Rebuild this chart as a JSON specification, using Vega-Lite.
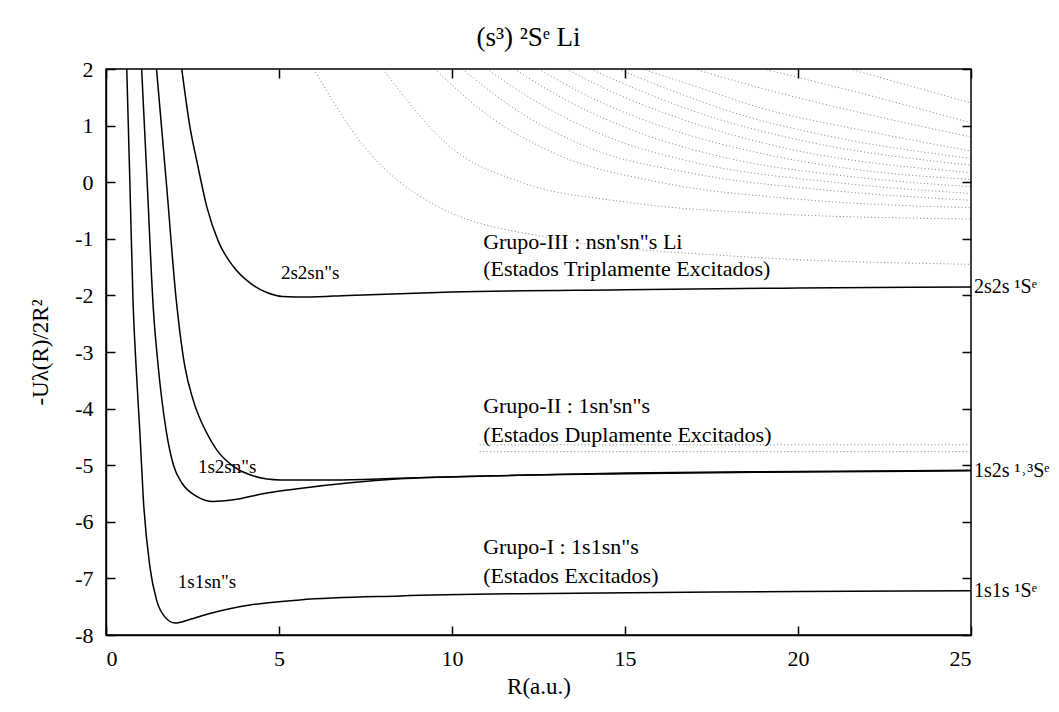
{
  "$schema": "https://vega.github.io/schema/vega-lite/v6.json",
  "width": 865,
  "height": 566,
  "autosize": {"type": "none"},
  "padding": {"left": 106, "top": 69, "right": 88, "bottom": 77},
  "background": "white",
  "config": {
    "font": "Liberation Serif",
    "text": {"font": "Liberation Serif"},
    "view": {"stroke": "black", "strokeWidth": 1.5},
    "axis": {
      "grid": false,
      "domainColor": "black",
      "domainWidth": 1.5,
      "tickColor": "black",
      "tickWidth": 1.5,
      "tickSize": -9,
      "labelFont": "Liberation Serif",
      "labelFontSize": 22,
      "labelColor": "black",
      "labelExpr": "replace(datum.label, '−', '-')",
      "titleFont": "Liberation Serif",
      "titleFontSize": 23,
      "titleFontWeight": "normal",
      "titleColor": "black"
    },
    "title": {"font": "Liberation Serif", "fontSize": 27, "fontWeight": "normal", "color": "black"}
  },
  "title": {"text": "(s³) ²Sᵉ Li", "offset": 6, "dx": -10},
  "datasets": {
    "curves": [
      {"s": "c1", "R": 0.6, "U": 2}, {"s": "c1", "R": 0.69, "U": 0}, {"s": "c1", "R": 0.78, "U": -2.08}, {"s": "c1", "R": 0.87, "U": -3.26}, {"s": "c1", "R": 0.98, "U": -4.43}, {"s": "c1", "R": 1.08, "U": -5.61}, {"s": "c1", "R": 1.27, "U": -6.8}, {"s": "c1", "R": 1.46, "U": -7.38}, {"s": "c1", "R": 1.7, "U": -7.68}, {"s": "c1", "R": 2.0, "U": -7.79}, {"s": "c1", "R": 2.4, "U": -7.73}, {"s": "c1", "R": 3.0, "U": -7.62}, {"s": "c1", "R": 4.16, "U": -7.47}, {"s": "c1", "R": 5.6, "U": -7.38}, {"s": "c1", "R": 8.5, "U": -7.31}, {"s": "c1", "R": 12, "U": -7.27}, {"s": "c1", "R": 16, "U": -7.25}, {"s": "c1", "R": 20, "U": -7.23}, {"s": "c1", "R": 25, "U": -7.22},
      {"s": "c2", "R": 1.03, "U": 2}, {"s": "c2", "R": 1.19, "U": 0}, {"s": "c2", "R": 1.37, "U": -2.26}, {"s": "c2", "R": 1.51, "U": -3.26}, {"s": "c2", "R": 1.75, "U": -4.43}, {"s": "c2", "R": 1.96, "U": -5.02}, {"s": "c2", "R": 2.19, "U": -5.31}, {"s": "c2", "R": 2.62, "U": -5.55}, {"s": "c2", "R": 3.1, "U": -5.64}, {"s": "c2", "R": 3.68, "U": -5.61}, {"s": "c2", "R": 4.65, "U": -5.49}, {"s": "c2", "R": 5.6, "U": -5.41}, {"s": "c2", "R": 7.06, "U": -5.31}, {"s": "c2", "R": 8.5, "U": -5.24}, {"s": "c2", "R": 11, "U": -5.19}, {"s": "c2", "R": 15, "U": -5.15}, {"s": "c2", "R": 20, "U": -5.12}, {"s": "c2", "R": 25, "U": -5.1},
      {"s": "c3", "R": 1.46, "U": 2}, {"s": "c3", "R": 1.75, "U": -0.05}, {"s": "c3", "R": 2.03, "U": -2.08}, {"s": "c3", "R": 2.14, "U": -2.67}, {"s": "c3", "R": 2.28, "U": -3.26}, {"s": "c3", "R": 2.52, "U": -3.85}, {"s": "c3", "R": 2.91, "U": -4.43}, {"s": "c3", "R": 3.2, "U": -4.73}, {"s": "c3", "R": 3.68, "U": -5.02}, {"s": "c3", "R": 4.16, "U": -5.17}, {"s": "c3", "R": 5.03, "U": -5.26}, {"s": "c3", "R": 6.55, "U": -5.26}, {"s": "c3", "R": 8.5, "U": -5.23}, {"s": "c3", "R": 11, "U": -5.19}, {"s": "c3", "R": 15, "U": -5.14}, {"s": "c3", "R": 20, "U": -5.11}, {"s": "c3", "R": 25, "U": -5.09},
      {"s": "c4", "R": 2.19, "U": 2}, {"s": "c4", "R": 2.42, "U": 1.0}, {"s": "c4", "R": 2.65, "U": 0.3}, {"s": "c4", "R": 2.92, "U": -0.45}, {"s": "c4", "R": 3.25, "U": -1.05}, {"s": "c4", "R": 3.68, "U": -1.49}, {"s": "c4", "R": 4.16, "U": -1.78}, {"s": "c4", "R": 4.65, "U": -1.95}, {"s": "c4", "R": 5.1, "U": -2.02}, {"s": "c4", "R": 5.8, "U": -2.03}, {"s": "c4", "R": 7, "U": -2.0}, {"s": "c4", "R": 10, "U": -1.94}, {"s": "c4", "R": 15, "U": -1.9}, {"s": "c4", "R": 20, "U": -1.87}, {"s": "c4", "R": 25, "U": -1.85}
    ],
    "dots": [
      {"s": "d1", "R": 6, "U": 2}, {"s": "d1", "R": 7.5, "U": 0.6}, {"s": "d1", "R": 9.5, "U": -0.4}, {"s": "d1", "R": 13, "U": -1.0}, {"s": "d1", "R": 18, "U": -1.3}, {"s": "d1", "R": 25, "U": -1.45},
      {"s": "d2", "R": 8, "U": 2}, {"s": "d2", "R": 10, "U": 0.6}, {"s": "d2", "R": 12, "U": 0}, {"s": "d2", "R": 15, "U": -0.35}, {"s": "d2", "R": 19, "U": -0.55}, {"s": "d2", "R": 25, "U": -0.65},
      {"s": "d3", "R": 9.5, "U": 2}, {"s": "d3", "R": 11, "U": 1.2}, {"s": "d3", "R": 13, "U": 0.5}, {"s": "d3", "R": 16, "U": 0.0}, {"s": "d3", "R": 20, "U": -0.3}, {"s": "d3", "R": 25, "U": -0.45},
      {"s": "d3b", "R": 10.3, "U": 2}, {"s": "d3b", "R": 11.8, "U": 1.3}, {"s": "d3b", "R": 14, "U": 0.6}, {"s": "d3b", "R": 17, "U": 0.15}, {"s": "d3b", "R": 21, "U": -0.15}, {"s": "d3b", "R": 25, "U": -0.32},
      {"s": "d4", "R": 11, "U": 2}, {"s": "d4", "R": 12.5, "U": 1.4}, {"s": "d4", "R": 14.5, "U": 0.8}, {"s": "d4", "R": 17, "U": 0.35}, {"s": "d4", "R": 21, "U": 0.0}, {"s": "d4", "R": 25, "U": -0.2},
      {"s": "d4b", "R": 11.8, "U": 2}, {"s": "d4b", "R": 13.3, "U": 1.45}, {"s": "d4b", "R": 15.3, "U": 0.9}, {"s": "d4b", "R": 18, "U": 0.42}, {"s": "d4b", "R": 21.5, "U": 0.1}, {"s": "d4b", "R": 25, "U": -0.08},
      {"s": "d5", "R": 12.5, "U": 2}, {"s": "d5", "R": 14, "U": 1.5}, {"s": "d5", "R": 16, "U": 1.0}, {"s": "d5", "R": 19, "U": 0.5}, {"s": "d5", "R": 22, "U": 0.2}, {"s": "d5", "R": 25, "U": 0.05},
      {"s": "d5b", "R": 13.3, "U": 2}, {"s": "d5b", "R": 14.8, "U": 1.55}, {"s": "d5b", "R": 16.8, "U": 1.08}, {"s": "d5b", "R": 19.5, "U": 0.62}, {"s": "d5b", "R": 25, "U": 0.17},
      {"s": "d6", "R": 14, "U": 2}, {"s": "d6", "R": 15.5, "U": 1.6}, {"s": "d6", "R": 17.5, "U": 1.15}, {"s": "d6", "R": 20, "U": 0.75}, {"s": "d6", "R": 25, "U": 0.3},
      {"s": "d6b", "R": 14.8, "U": 2}, {"s": "d6b", "R": 16.3, "U": 1.63}, {"s": "d6b", "R": 18.3, "U": 1.2}, {"s": "d6b", "R": 21, "U": 0.8}, {"s": "d6b", "R": 25, "U": 0.42},
      {"s": "d7", "R": 15.5, "U": 2}, {"s": "d7", "R": 17, "U": 1.7}, {"s": "d7", "R": 19, "U": 1.3}, {"s": "d7", "R": 22, "U": 0.9}, {"s": "d7", "R": 25, "U": 0.55},
      {"s": "d8", "R": 17, "U": 2}, {"s": "d8", "R": 19, "U": 1.65}, {"s": "d8", "R": 22, "U": 1.2}, {"s": "d8", "R": 25, "U": 0.8},
      {"s": "d9", "R": 19, "U": 2}, {"s": "d9", "R": 21, "U": 1.7}, {"s": "d9", "R": 25, "U": 1.05},
      {"s": "d10", "R": 21.5, "U": 2}, {"s": "d10", "R": 25, "U": 1.4},
      {"s": "h1", "R": 10.8, "U": -4.64}, {"s": "h1", "R": 25, "U": -4.64},
      {"s": "h2", "R": 10.8, "U": -4.76}, {"s": "h2", "R": 25, "U": -4.76}
    ],
    "inner": [
      {"R": 5.9, "U": -1.6, "label": "2s2sn\"s"},
      {"R": 3.5, "U": -5.03, "label": "1s2sn\"s"},
      {"R": 2.92, "U": -7.06, "label": "1s1sn\"s"}
    ],
    "groups": [
      {"R": 10.9, "U": -1.06, "label": "Grupo-III : nsn'sn\"s Li"},
      {"R": 10.9, "U": -1.53, "label": "(Estados Triplamente Excitados)"},
      {"R": 10.9, "U": -3.95, "label": "Grupo-II : 1sn'sn\"s"},
      {"R": 10.9, "U": -4.46, "label": "(Estados Duplamente Excitados)"},
      {"R": 10.9, "U": -6.45, "label": "Grupo-I : 1s1sn\"s"},
      {"R": 10.9, "U": -6.95, "label": "(Estados Excitados)"}
    ],
    "right": [
      {"R": 25, "U": -1.85, "label": "2s2s ¹Sᵉ"},
      {"R": 25, "U": -5.1, "label": "1s2s ¹˒³Sᵉ"},
      {"R": 25, "U": -7.22, "label": "1s1s ¹Sᵉ"}
    ]
  },
  "resolve": {"axis": {"x": "independent", "y": "independent"}},
  "layer": [
    {
      "data": {"name": "dots"},
      "mark": {"type": "line", "interpolate": "monotone", "clip": true, "color": "#555", "strokeWidth": 1, "strokeDash": [1, 2.5], "opacity": 0.75},
      "encoding": {
        "x": {"field": "R", "type": "quantitative", "scale": {"domain": [0, 25], "nice": false, "zero": false}, "axis": {"orient": "top", "labels": false, "title": null, "values": [0, 5, 10, 15, 20, 25], "domain": false}},
        "y": {"field": "U", "type": "quantitative", "scale": {"domain": [-8, 2], "nice": false, "zero": false}, "axis": {"orient": "right", "labels": false, "title": null, "values": [-8, -7, -6, -5, -4, -3, -2, -1, 0, 1, 2], "domain": false}},
        "detail": {"field": "s"}
      }
    },
    {
      "data": {"name": "curves"},
      "mark": {"type": "line", "interpolate": "monotone", "clip": true, "color": "black", "strokeWidth": 1.5},
      "encoding": {
        "x": {"field": "R", "type": "quantitative", "axis": {"orient": "bottom", "title": "R(a.u.)", "values": [0, 5, 10, 15, 20, 25], "labelPadding": 22, "titlePadding": 6}},
        "y": {"field": "U", "type": "quantitative", "axis": {"orient": "left", "title": "-Uλ(R)/2R²", "values": [-8, -7, -6, -5, -4, -3, -2, -1, 0, 1, 2], "labelPadding": 22, "titlePadding": 22}},
        "detail": {"field": "s"}
      }
    },
    {
      "data": {"name": "inner"},
      "mark": {"type": "text", "fontSize": 19, "color": "black", "align": "center", "baseline": "middle", "font": "Liberation Serif"},
      "encoding": {
        "x": {"field": "R", "type": "quantitative", "axis": null},
        "y": {"field": "U", "type": "quantitative", "axis": null},
        "text": {"field": "label"}
      }
    },
    {
      "data": {"name": "groups"},
      "mark": {"type": "text", "fontSize": 22, "color": "black", "align": "left", "baseline": "middle", "font": "Liberation Serif"},
      "encoding": {
        "x": {"field": "R", "type": "quantitative", "axis": null},
        "y": {"field": "U", "type": "quantitative", "axis": null},
        "text": {"field": "label"}
      }
    },
    {
      "data": {"name": "right"},
      "mark": {"type": "text", "fontSize": 20, "color": "black", "align": "left", "baseline": "middle", "dx": 3, "font": "Liberation Serif"},
      "encoding": {
        "x": {"field": "R", "type": "quantitative", "axis": null},
        "y": {"field": "U", "type": "quantitative", "axis": null},
        "text": {"field": "label"}
      }
    }
  ]
}
